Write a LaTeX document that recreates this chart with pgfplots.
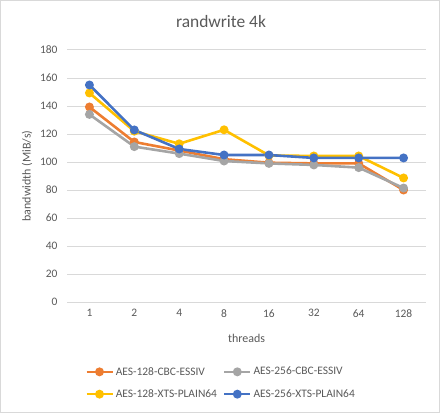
\documentclass[border=0pt]{standalone}
\usepackage{fontspec}
\setmainfont{Carlito}
\usepackage{pgfplots}
\pgfplotsset{compat=1.18}
\definecolor{sorange}{HTML}{ED7D31}
\definecolor{sgray}{HTML}{A5A5A5}
\definecolor{syellow}{HTML}{FFC000}
\definecolor{sblue}{HTML}{4472C4}
\definecolor{gridc}{HTML}{D9D9D9}
\definecolor{txt}{HTML}{595959}
\begin{document}
\begin{tikzpicture}[x=1bp,y=1bp]
\useasboundingbox (0,0) rectangle (440,413);
\draw[gridc, line width=1bp] (0.5,0.5) rectangle (439.5,412.5);
\node[font=\fontsize{17.5}{20}\selectfont, text=txt] at (221,391) {randwrite 4k};
\begin{axis}[
  at={(67bp,111bp)}, anchor=south west,
  scale only axis, width=359bp, height=252bp,
  xmin=-0.5, xmax=7.5, ymin=0, ymax=180,
  xtick={0,...,7}, xticklabels={1,2,4,8,16,32,64,128},
  ytick={0,20,...,180},
  axis line style={draw=none},
  major tick length=0pt,
  ymajorgrids, grid style={gridc, line width=1bp},
  tick label style={font=\fontsize{11.5}{13}\selectfont, text=txt},
  /pgf/number format/assume math mode=true,
  xticklabel style={yshift=-4bp},
  yticklabel style={xshift=-6bp},
  xlabel={threads}, ylabel={bandwidth (MiB/s)},
  label style={font=\fontsize{12}{14}\selectfont, text=txt},
  xlabel style={at={(axis description cs:0.5,-0.1429)}, anchor=center},
  ylabel style={at={(axis description cs:-0.1114,0.5)}, anchor=center},
  every axis plot/.append style={line width=2.6bp, mark=*, mark size=3.1bp, mark options={solid}},
  legend columns=2,
  legend style={draw=none, fill=none, at={(axis description cs:0.429,-0.3214)}, anchor=center,
    font=\fontsize{11.5}{13}\selectfont, text=txt,
    /tikz/every even column/.append style={column sep=4bp},
    row sep=9bp},
  legend cell align=left,
  legend image code/.code={\draw[#1, mark repeat=2, mark phase=2] plot coordinates {(0bp,0bp)(13bp,0bp)(26bp,0bp)};},
]
\addplot[sorange] coordinates {(0,139.3)(1,114.3)(2,108.2)(3,102)(4,99.5)(5,99)(6,99)(7,80)};
\addlegendentry{AES-128-CBC-ESSIV}
\addplot[sgray] coordinates {(0,134)(1,111)(2,106)(3,100.7)(4,99)(5,97.9)(6,96)(7,81.4)};
\addlegendentry{AES-256-CBC-ESSIV}
\addplot[syellow] coordinates {(0,149.3)(1,122)(2,113)(3,123)(4,104.7)(5,104.3)(6,104.3)(7,88.6)};
\addlegendentry{AES-128-XTS-PLAIN64}
\addplot[sblue] coordinates {(0,155)(1,122.9)(2,109.3)(3,105)(4,105)(5,102.9)(6,102.9)(7,102.9)};
\addlegendentry{AES-256-XTS-PLAIN64}
\end{axis}
\end{tikzpicture}
\end{document}
